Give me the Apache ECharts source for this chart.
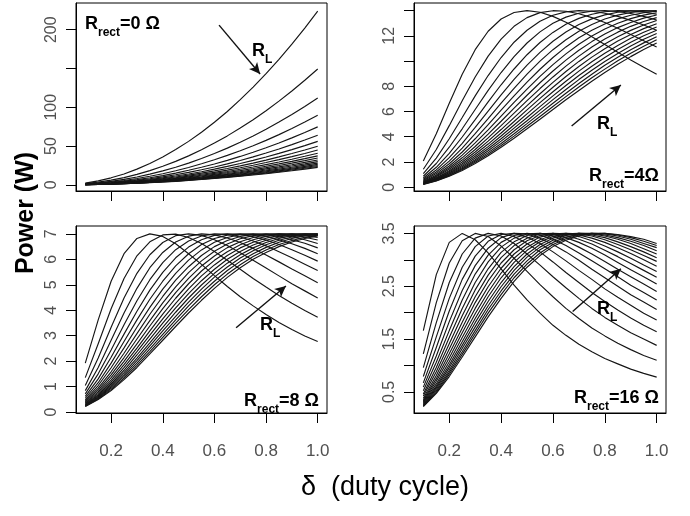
<!DOCTYPE html>
<html><head><meta charset="utf-8">
<script src="https://cdn.jsdelivr.net/npm/echarts@6/dist/echarts.min.js"></script>
<style>html,body{margin:0;padding:0;background:#fff}#chart{width:690px;height:516px}</style>
</head><body><div id="chart"></div>
<script>
// ---------------- data ----------------
const dutyCycle = [0.10,0.15,0.20,0.25,0.30,0.35,0.40,0.45,0.50,0.55,0.60,0.65,0.70,0.75,0.80,0.85,0.90,0.95,1.00];
const loadResistance = [1,1.5,2,2.5,3,3.5,4,4.5,5,5.5,6,6.5,7,7.5,8,8.5,9,9.5,10];
const xTicks = [0.2,0.4,0.6,0.8,1.0];

const yTicksRrect0 = [0,50,100,150,200];
const yLabelsRrect0 = [0,50,100,200];
const yTicksRrect4 = [0,2,4,6,8,10,12,14];
const yLabelsRrect4 = [0,2,4,6,8,12];
const yTicksRrect8 = [0,1,2,3,4,5,6,7];
const yLabelsRrect8 = [0,1,2,3,4,5,6,7];
const yTicksRrect16 = [0.5,1,1.5,2,2.5,3,3.5];
const yLabelsRrect16 = [0.5,1.5,2.5,3.5];

const powerRrect0 = [
 [2.2,5.0,9.0,14.0,20.2,27.4,35.8,45.4,56.0,67.8,80.6,94.6,109.8,126.0,143.4,161.8,181.4,202.2,224.0],
 [1.5,3.4,6.0,9.3,13.4,18.3,23.9,30.2,37.3,45.2,53.8,63.1,73.2,84.0,95.6,107.9,121.0,134.8,149.3],
 [1.1,2.5,4.5,7.0,10.1,13.7,17.9,22.7,28.0,33.9,40.3,47.3,54.9,63.0,71.7,80.9,90.7,101.1,112.0],
 [0.9,2.0,3.6,5.6,8.1,11.0,14.3,18.1,22.4,27.1,32.3,37.9,43.9,50.4,57.3,64.7,72.6,80.9,89.6],
 [0.7,1.7,3.0,4.7,6.7,9.1,11.9,15.1,18.7,22.6,26.9,31.5,36.6,42.0,47.8,53.9,60.5,67.4,74.7],
 [0.6,1.4,2.6,4.0,5.8,7.8,10.2,13.0,16.0,19.4,23.0,27.0,31.4,36.0,41.0,46.2,51.8,57.8,64.0],
 [0.6,1.3,2.2,3.5,5.0,6.9,9.0,11.3,14.0,16.9,20.2,23.7,27.4,31.5,35.8,40.5,45.4,50.5,56.0],
 [0.5,1.1,2.0,3.1,4.5,6.1,8.0,10.1,12.4,15.1,17.9,21.0,24.4,28.0,31.9,36.0,40.3,44.9,49.8],
 [0.4,1.0,1.8,2.8,4.0,5.5,7.2,9.1,11.2,13.6,16.1,18.9,22.0,25.2,28.7,32.4,36.3,40.4,44.8],
 [0.4,0.9,1.6,2.5,3.7,5.0,6.5,8.2,10.2,12.3,14.7,17.2,20.0,22.9,26.1,29.4,33.0,36.8,40.7],
 [0.4,0.8,1.5,2.3,3.4,4.6,6.0,7.6,9.3,11.3,13.4,15.8,18.3,21.0,23.9,27.0,30.2,33.7,37.3],
 [0.3,0.8,1.4,2.2,3.1,4.2,5.5,7.0,8.6,10.4,12.4,14.6,16.9,19.4,22.1,24.9,27.9,31.1,34.5],
 [0.3,0.7,1.3,2.0,2.9,3.9,5.1,6.5,8.0,9.7,11.5,13.5,15.7,18.0,20.5,23.1,25.9,28.9,32.0],
 [0.3,0.7,1.2,1.9,2.7,3.7,4.8,6.0,7.5,9.0,10.8,12.6,14.6,16.8,19.1,21.6,24.2,27.0,29.9],
 [0.3,0.6,1.1,1.8,2.5,3.4,4.5,5.7,7.0,8.5,10.1,11.8,13.7,15.8,17.9,20.2,22.7,25.3,28.0],
 [0.3,0.6,1.1,1.6,2.4,3.2,4.2,5.3,6.6,8.0,9.5,11.1,12.9,14.8,16.9,19.0,21.3,23.8,26.4],
 [0.2,0.6,1.0,1.6,2.2,3.0,4.0,5.0,6.2,7.5,9.0,10.5,12.2,14.0,15.9,18.0,20.2,22.5,24.9],
 [0.2,0.5,0.9,1.5,2.1,2.9,3.8,4.8,5.9,7.1,8.5,10.0,11.6,13.3,15.1,17.0,19.1,21.3,23.6],
 [0.2,0.5,0.9,1.4,2.0,2.7,3.6,4.5,5.6,6.8,8.1,9.5,11.0,12.6,14.3,16.2,18.1,20.2,22.4]
];

const powerRrect4 = [
 [2.07,4.24,6.66,8.96,10.90,12.36,13.33,13.85,14.00,13.87,13.54,13.08,12.53,11.93,11.31,10.70,10.09,9.51,8.96],
 [1.42,2.99,4.88,6.86,8.74,10.39,11.74,12.75,13.44,13.84,13.99,13.95,13.75,13.44,13.05,12.60,12.11,11.61,11.11],
 [1.08,2.31,3.84,5.53,7.24,8.85,10.28,11.49,12.44,13.15,13.63,13.90,14.00,13.95,13.79,13.54,13.22,12.85,12.44],
 [0.87,1.88,3.17,4.63,6.16,7.67,9.09,10.35,11.43,12.31,12.99,13.48,13.79,13.96,14.00,13.93,13.77,13.54,13.25],
 [0.73,1.58,2.69,3.98,5.36,6.76,8.12,9.37,10.50,11.47,12.27,12.91,13.38,13.71,13.91,14.00,13.98,13.88,13.71],
 [0.63,1.37,2.34,3.48,4.74,6.03,7.32,8.55,9.68,10.69,11.57,12.30,12.89,13.34,13.66,13.87,13.98,14.00,13.94],
 [0.55,1.21,2.07,3.10,4.24,5.44,6.66,7.84,8.96,9.99,10.90,11.69,12.36,12.90,13.33,13.64,13.85,13.96,14.00],
 [0.49,1.08,1.86,2.79,3.84,4.96,6.11,7.24,8.33,9.35,10.28,11.12,11.84,12.44,12.94,13.34,13.63,13.83,13.95],
 [0.44,0.97,1.68,2.54,3.51,4.55,5.63,6.72,7.78,8.79,9.72,10.57,11.33,11.99,12.54,13.00,13.36,13.64,13.83],
 [0.40,0.89,1.54,2.33,3.23,4.21,5.23,6.27,7.29,8.28,9.21,10.07,10.85,11.54,12.14,12.65,13.06,13.40,13.65],
 [0.37,0.82,1.42,2.15,2.99,3.91,4.88,5.87,6.86,7.82,8.74,9.60,10.39,11.11,11.74,12.29,12.75,13.13,13.44],
 [0.34,0.75,1.31,2.00,2.79,3.65,4.57,5.52,6.47,7.41,8.31,9.17,9.97,10.70,11.35,11.93,12.43,12.86,13.21],
 [0.32,0.70,1.22,1.86,2.61,3.42,4.30,5.21,6.13,7.04,7.92,8.77,9.57,10.31,10.98,11.58,12.11,12.57,12.96],
 [0.30,0.66,1.15,1.75,2.45,3.22,4.06,4.93,5.81,6.70,7.57,8.40,9.20,9.94,10.62,11.24,11.80,12.28,12.70],
 [0.28,0.62,1.08,1.65,2.31,3.05,3.84,4.68,5.53,6.39,7.24,8.06,8.85,9.59,10.28,10.92,11.49,12.00,12.44],
 [0.26,0.58,1.02,1.55,2.18,2.89,3.65,4.45,5.27,6.11,6.94,7.75,8.53,9.27,9.96,10.60,11.19,11.72,12.19],
 [0.25,0.55,0.96,1.47,2.07,2.74,3.47,4.24,5.04,5.85,6.66,7.45,8.22,8.96,9.66,10.30,10.90,11.44,11.93],
 [0.23,0.52,0.91,1.40,1.97,2.61,3.31,4.05,4.83,5.61,6.40,7.18,7.94,8.67,9.36,10.02,10.62,11.17,11.68],
 [0.22,0.50,0.87,1.33,1.88,2.49,3.17,3.88,4.63,5.39,6.16,6.93,7.67,8.40,9.09,9.74,10.35,10.91,11.43]
];

const powerRrect8 = [
 [1.92,3.62,5.14,6.22,6.82,7.00,6.90,6.61,6.22,5.80,5.36,4.93,4.53,4.17,3.83,3.52,3.24,2.99,2.77],
 [1.35,2.68,4.06,5.25,6.14,6.69,6.96,6.99,6.86,6.62,6.31,5.96,5.61,5.25,4.91,4.58,4.27,3.99,3.72],
 [1.04,2.12,3.33,4.48,5.45,6.18,6.66,6.93,7.00,6.94,6.77,6.54,6.26,5.96,5.66,5.35,5.04,4.76,4.48],
 [0.84,1.75,2.82,3.89,4.86,5.67,6.27,6.68,6.91,7.00,6.96,6.84,6.66,6.43,6.17,5.90,5.62,5.35,5.08],
 [0.71,1.50,2.44,3.43,4.37,5.20,5.87,6.38,6.72,6.92,7.00,6.98,6.88,6.72,6.53,6.30,6.06,5.81,5.56],
 [0.61,1.30,2.15,3.06,3.96,4.79,5.49,6.06,6.48,6.77,6.94,7.00,6.98,6.89,6.76,6.58,6.38,6.16,5.93],
 [0.54,1.15,1.92,2.77,3.62,4.43,5.14,5.74,6.22,6.58,6.82,6.95,7.00,6.98,6.90,6.77,6.61,6.43,6.22],
 [0.48,1.04,1.74,2.52,3.33,4.11,4.83,5.45,5.97,6.37,6.67,6.86,6.97,7.00,6.97,6.89,6.77,6.63,6.45],
 [0.43,0.94,1.58,2.31,3.08,3.84,4.54,5.18,5.71,6.15,6.50,6.74,6.90,6.98,7.00,6.96,6.89,6.77,6.62],
 [0.40,0.86,1.46,2.14,2.87,3.59,4.29,4.92,5.48,5.94,6.32,6.60,6.81,6.93,6.99,7.00,6.96,6.87,6.76],
 [0.36,0.79,1.35,1.99,2.68,3.38,4.06,4.69,5.25,5.74,6.13,6.46,6.69,6.86,6.96,7.00,6.99,6.94,6.86],
 [0.34,0.73,1.25,1.86,2.51,3.19,3.85,4.47,5.04,5.54,5.96,6.30,6.57,6.77,6.90,6.98,7.00,6.98,6.93],
 [0.31,0.68,1.17,1.74,2.37,3.02,3.66,4.27,4.84,5.35,5.78,6.15,6.45,6.67,6.83,6.94,6.99,7.00,6.97],
 [0.29,0.64,1.10,1.64,2.24,2.86,3.49,4.09,4.65,5.16,5.61,6.00,6.31,6.56,6.75,6.88,6.96,7.00,7.00],
 [0.27,0.60,1.04,1.55,2.12,2.72,3.33,3.92,4.48,4.99,5.45,5.85,6.18,6.45,6.66,6.82,6.93,6.98,7.00],
 [0.26,0.57,0.98,1.47,2.02,2.60,3.19,3.76,4.32,4.83,5.30,5.70,6.05,6.34,6.57,6.75,6.88,6.96,6.99],
 [0.24,0.54,0.93,1.40,1.92,2.48,3.05,3.62,4.17,4.68,5.14,5.56,5.92,6.22,6.47,6.67,6.82,6.92,6.98],
 [0.23,0.51,0.88,1.33,1.83,2.37,2.93,3.49,4.02,4.53,5.00,5.42,5.79,6.11,6.37,6.58,6.74,6.87,6.95],
 [0.22,0.49,0.84,1.27,1.75,2.28,2.82,3.36,3.89,4.39,4.86,5.29,5.67,6.00,6.27,6.50,6.68,6.82,6.92]
];

const powerRrect16 = [
 [1.66,2.72,3.33,3.50,3.38,3.13,2.83,2.52,2.24,1.99,1.76,1.57,1.40,1.26,1.13,1.03,0.93,0.85,0.78],
 [1.22,2.19,2.94,3.36,3.50,3.44,3.26,3.03,2.78,2.53,2.30,2.08,1.89,1.71,1.56,1.42,1.30,1.19,1.10],
 [0.96,1.81,2.57,3.11,3.41,3.50,3.45,3.31,3.11,2.90,2.68,2.47,2.27,2.08,1.91,1.76,1.62,1.50,1.38],
 [0.79,1.54,2.27,2.86,3.25,3.45,3.50,3.44,3.31,3.15,2.96,2.76,2.57,2.38,2.21,2.05,1.90,1.76,1.64],
 [0.67,1.34,2.03,2.63,3.07,3.35,3.48,3.50,3.43,3.31,3.15,2.98,2.80,2.63,2.45,2.29,2.14,1.99,1.86],
 [0.59,1.18,1.83,2.42,2.89,3.22,3.42,3.50,3.49,3.41,3.29,3.15,2.99,2.82,2.66,2.50,2.34,2.20,2.06],
 [0.52,1.06,1.66,2.24,2.73,3.09,3.33,3.46,3.50,3.47,3.39,3.27,3.13,2.98,2.83,2.68,2.52,2.38,2.24],
 [0.46,0.96,1.53,2.08,2.57,2.96,3.24,3.41,3.49,3.50,3.45,3.36,3.24,3.11,2.97,2.82,2.68,2.54,2.40],
 [0.42,0.88,1.41,1.94,2.43,2.83,3.14,3.34,3.46,3.50,3.48,3.42,3.33,3.22,3.09,2.95,2.81,2.68,2.54],
 [0.38,0.81,1.31,1.82,2.30,2.71,3.04,3.27,3.41,3.49,3.50,3.46,3.39,3.30,3.18,3.06,2.93,2.80,2.67],
 [0.35,0.75,1.22,1.71,2.19,2.60,2.94,3.19,3.36,3.46,3.50,3.49,3.44,3.36,3.26,3.15,3.03,2.90,2.78],
 [0.33,0.70,1.14,1.62,2.08,2.49,2.84,3.11,3.30,3.43,3.49,3.50,3.47,3.41,3.33,3.23,3.12,3.00,2.88],
 [0.31,0.65,1.07,1.53,1.98,2.39,2.75,3.03,3.24,3.38,3.47,3.50,3.49,3.45,3.38,3.29,3.19,3.08,2.97],
 [0.29,0.61,1.01,1.45,1.89,2.30,2.66,2.95,3.18,3.34,3.44,3.49,3.50,3.47,3.42,3.34,3.25,3.15,3.04],
 [0.27,0.58,0.96,1.38,1.81,2.21,2.57,2.87,3.11,3.29,3.41,3.48,3.50,3.49,3.45,3.39,3.31,3.21,3.11],
 [0.25,0.55,0.91,1.32,1.73,2.13,2.49,2.80,3.05,3.24,3.37,3.46,3.50,3.50,3.47,3.42,3.35,3.27,3.17],
 [0.24,0.52,0.87,1.26,1.66,2.06,2.41,2.73,2.98,3.19,3.33,3.43,3.48,3.50,3.49,3.45,3.39,3.31,3.23],
 [0.23,0.49,0.83,1.21,1.60,1.99,2.34,2.66,2.92,3.13,3.29,3.40,3.47,3.50,3.50,3.47,3.42,3.35,3.27],
 [0.22,0.47,0.79,1.16,1.54,1.92,2.27,2.59,2.86,3.08,3.25,3.37,3.45,3.49,3.50,3.48,3.44,3.39,3.31]
];

const rrectValues = ['0 Ω', '4Ω', '8 Ω', '16 Ω'];

// ---------------- layout ----------------
const FONT = '"Liberation Sans", Arial, Helvetica, sans-serif';
const panels = [
  {curves: powerRrect0, yTicks: yTicksRrect0, yLabels: yLabelsRrect0, fmt: v => String(v),
   grid: {left: 76, top: 3, width: 251, height: 188}, yMin: -8, yMax: 234.5, showX: false,
   arrow: [[0.618, 206], [0.777, 143]],
   tag: {x: 85, y: 9, align: 'left'}, rl: {x: 252, y: 36}},
  {curves: powerRrect4, yTicks: yTicksRrect4, yLabels: yLabelsRrect4, fmt: v => String(v),
   grid: {left: 414, top: 3, width: 252, height: 188}, yMin: -0.3, yMax: 14.6, showX: false,
   arrow: [[0.672, 4.85], [0.862, 8.1]],
   tag: {x: 659, y: 161, align: 'right'}, rl: {x: 597, y: 109}},
  {curves: powerRrect8, yTicks: yTicksRrect8, yLabels: yLabelsRrect8, fmt: v => String(v),
   grid: {left: 76, top: 226, width: 251, height: 187}, yMin: -0.04, yMax: 7.31, showX: true,
   arrow: [[0.684, 3.31], [0.877, 4.95]],
   tag: {x: 319, y: 386, align: 'right'}, rl: {x: 260, y: 310}},
  {curves: powerRrect16, yTicks: yTicksRrect16, yLabels: yLabelsRrect16, fmt: v => v.toFixed(1),
   grid: {left: 414, top: 226, width: 252, height: 187}, yMin: 0.1, yMax: 3.64, showX: true,
   arrow: [[0.676, 2.02], [0.862, 2.83]],
   tag: {x: 659, y: 383, align: 'right'}, rl: {x: 597, y: 294}}
];

const grids = [], xAxes = [], yAxes = [], series = [], graphics = [];
const richStyles = {
  m: {fontSize: 18, fontWeight: 'bold', fontFamily: FONT, fill: '#000', lineHeight: 30},
  s: {fontSize: 12, fontWeight: 'bold', fontFamily: FONT, fill: '#000', lineHeight: 12, verticalAlign: 'bottom'}
};

panels.forEach((p, k) => {
  grids.push(Object.assign({show: true, borderColor: '#000', borderWidth: 1, backgroundColor: 'transparent', containLabel: false}, p.grid));
  xAxes.push({
    type: 'value', gridIndex: k, min: 0.064, max: 1.036, position: 'bottom',
    axisLine: {show: true, onZero: false, lineStyle: {color: '#000', width: 1}},
    splitLine: {show: false},
    axisTick: {show: true, length: 10, customValues: xTicks, lineStyle: {color: '#000', width: 1}},
    axisLabel: {show: p.showX, customValues: xTicks, formatter: v => v.toFixed(1),
      color: '#505050', fontSize: 17, fontFamily: FONT, margin: 30}
  });
  yAxes.push({
    type: 'value', gridIndex: k, min: p.yMin, max: p.yMax, position: 'left',
    axisLine: {show: true, onZero: false, lineStyle: {color: '#000', width: 1}},
    splitLine: {show: false},
    axisTick: {show: true, length: 10, customValues: p.yTicks, lineStyle: {color: '#000', width: 1}},
    axisLabel: {show: true, customValues: p.yLabels, formatter: p.fmt, rotate: 90,
      color: '#505050', fontSize: 16, fontFamily: FONT, margin: 16}
  });
  p.curves.forEach((vals, j) => {
    series.push({
      type: 'line', name: 'RL=' + loadResistance[j], xAxisIndex: k, yAxisIndex: k,
      data: dutyCycle.map((d, i) => [d, vals[i]]),
      symbol: 'none', showSymbol: false, silent: true, animation: false,
      lineStyle: {color: '#151515', width: 1.15}, z: 2
    });
  });
  series.push({
    type: 'line', xAxisIndex: k, yAxisIndex: k, data: [], silent: true, animation: false,
    markLine: {silent: true, animation: false, symbol: ['none', 'arrow'], symbolSize: [8, 11],
      label: {show: false}, lineStyle: {color: '#111', width: 1.4, type: 'solid'},
      data: [[{coord: p.arrow[0]}, {coord: p.arrow[1]}]]}
  });
  graphics.push({
    type: 'text', x: p.tag.x, y: p.tag.y, z: 10,
    style: {text: '{m|R}{s|rect}{m|=' + rrectValues[k] + '}', rich: richStyles,
      textAlign: p.tag.align, textVerticalAlign: 'top'}
  });
  graphics.push({
    type: 'text', x: p.rl.x, y: p.rl.y, z: 10,
    style: {text: '{m|R}{s|L}', rich: richStyles, textAlign: 'left', textVerticalAlign: 'top'}
  });
});

graphics.push({
  type: 'text', x: 26, y: 213, rotation: Math.PI / 2, z: 10,
  style: {text: 'Power (W)', font: 'bold 25px ' + FONT, fill: '#000', textAlign: 'center', textVerticalAlign: 'middle'}
});
graphics.push({
  type: 'text', x: 385, y: 488, z: 10,
  style: {text: 'δ  (duty cycle)', font: '27px ' + FONT, fill: '#000', textAlign: 'center', textVerticalAlign: 'middle'}
});

const chart = echarts.init(document.getElementById('chart'), null, {renderer: 'canvas'});
chart.setOption({
  animation: false,
  backgroundColor: '#fff',
  grid: grids, xAxis: xAxes, yAxis: yAxes, series: series, graphic: graphics
});
</script></body></html>
